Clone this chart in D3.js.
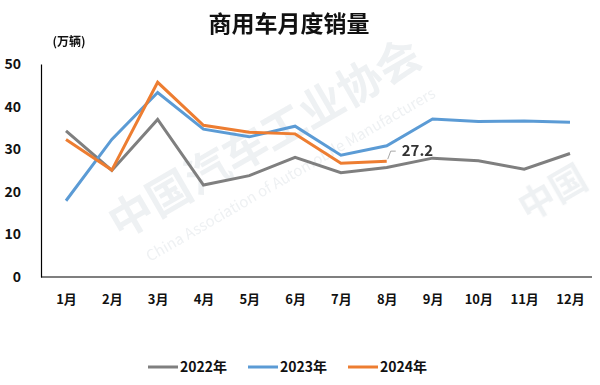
<!DOCTYPE html>
<html>
<head>
<meta charset="utf-8">
<script src="https://cdn.jsdelivr.net/npm/d3@7"></script>
<style>
  body { margin: 0; background: #fff; }
  svg { display: block; font-family: "Noto Sans CJK SC", "Noto Sans", sans-serif; }
</style>
</head>
<body>
<svg id="chart" width="600" height="385"></svg>
<script>
const months = ["1月", "2月", "3月", "4月", "5月", "6月", "7月", "8月", "9月", "10月", "11月", "12月"];
const yTicks = [0, 10, 20, 30, 40, 50];

const sales2022 = [34.3, 25.0, 37.0, 21.6, 23.8, 28.1, 24.5, 25.7, 27.9, 27.3, 25.3, 29.0];
const sales2023 = [17.9, 32.3, 43.3, 34.7, 32.9, 35.4, 28.6, 30.8, 37.1, 36.5, 36.6, 36.3];
const sales2024 = [32.3, 25.1, 45.7, 35.6, 34.0, 33.6, 26.7, 27.2];

const series = [
  { name: "2022年", values: sales2022, color: "#7f7f7f" },
  { name: "2023年", values: sales2023, color: "#5b9bd5" },
  { name: "2024年", values: sales2024, color: "#ed7d31" }
];

const svg = d3.select("#chart");

const x = d3.scalePoint().domain(months).range([66, 570]);
const y = d3.scaleLinear().domain([0, 50]).range([277, 64]);

// watermark, very faint
const wm = svg.append("g").attr("class", "watermark").attr("fill", "#cfd6dc").attr("opacity", 0.35);
wm.append("text")
  .attr("transform", "translate(120,240) rotate(-30)")
  .attr("font-size", 44).attr("font-weight", 700)
  .text("中国汽车工业协会");
wm.append("text")
  .attr("transform", "translate(150,262) rotate(-30)")
  .attr("font-size", 15)
  .text("China Association of Automobile Manufacturers");
wm.append("text")
  .attr("transform", "translate(528,222) rotate(-30)")
  .attr("font-size", 36).attr("font-weight", 700)
  .text("中国");

// title
svg.append("text")
  .attr("x", 289).attr("y", 32)
  .attr("text-anchor", "middle")
  .attr("font-size", 23).attr("font-weight", 700)
  .attr("fill", "#111")
  .text("商用车月度销量");

svg.append("text")
  .attr("x", 69).attr("y", 46)
  .attr("text-anchor", "middle")
  .attr("font-size", 12).attr("font-weight", 700)
  .attr("fill", "#111")
  .text("(万辆)");

// axes
const yAxis = svg.append("g")
  .attr("transform", "translate(41,0)")
  .call(d3.axisLeft(y).tickValues(yTicks).tickSize(0).tickPadding(20));
yAxis.select(".domain").attr("stroke", "#000").attr("stroke-width", 1.2);
yAxis.selectAll("text")
  .attr("font-size", 14).attr("font-weight", 700).attr("fill", "#111")
  .attr("font-family", "\"Noto Sans CJK SC\", sans-serif");

const xAxis = svg.append("g")
  .attr("transform", "translate(0,277)")
  .call(d3.axisBottom(x).tickSize(0).tickPadding(18));
xAxis.select(".domain").attr("d", "M41,0H592").attr("stroke", "#000").attr("stroke-width", 1.2);
xAxis.selectAll("text")
  .attr("font-size", 13).attr("font-weight", 700).attr("fill", "#111")
  .attr("font-family", "\"Noto Sans CJK SC\", sans-serif");

// lines
const line = d3.line()
  .x((d, i) => x(months[i]))
  .y(d => y(d));

svg.append("g").attr("class", "lines")
  .selectAll("path")
  .data(series)
  .join("path")
  .attr("d", d => line(d.values))
  .attr("fill", "none")
  .attr("stroke", d => d.color)
  .attr("stroke-width", 3)
  .attr("stroke-linejoin", "miter");

// label for latest 2024 value
const lastIdx = sales2024.length - 1;
const lx = x(months[lastIdx]);
const ly = y(sales2024[lastIdx]);
svg.append("path")
  .attr("d", `M${lx + 1},${ly - 2}L${lx + 4},${ly - 10}H${lx + 9}`)
  .attr("fill", "none")
  .attr("stroke", "#a6a6a6")
  .attr("stroke-width", 1);
svg.append("text")
  .attr("x", lx + 15).attr("y", ly - 5)
  .attr("font-size", 15).attr("font-weight", 700)
  .attr("fill", "#333")
  .text(sales2024[lastIdx].toFixed(1));

// legend
const legendX = [148, 248, 348];
const legend = svg.append("g").attr("class", "legend")
  .selectAll("g")
  .data(series)
  .join("g")
  .attr("transform", (d, i) => `translate(${legendX[i]},367)`);
legend.append("line")
  .attr("x1", 0).attr("x2", 30)
  .attr("stroke", d => d.color)
  .attr("stroke-width", 3);
legend.append("text")
  .attr("x", 32).attr("dy", "0.35em")
  .attr("font-size", 14).attr("font-weight", 700)
  .attr("fill", "#111")
  .text(d => d.name);
</script>
</body>
</html>
